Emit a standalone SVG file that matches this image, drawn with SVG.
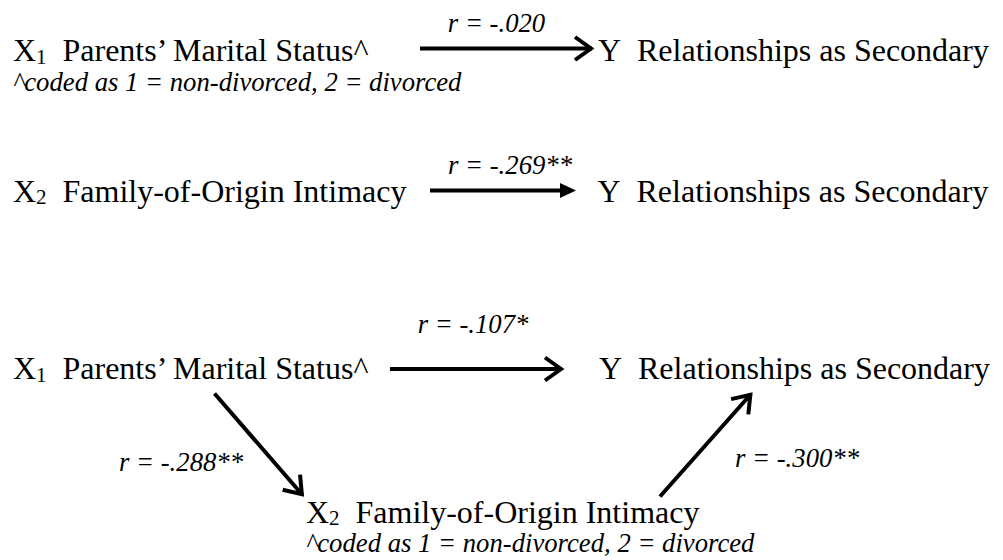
<svg xmlns="http://www.w3.org/2000/svg" width="1003" height="560" viewBox="0 0 1003 560">
<style>
.lbl{font-family:"Liberation Serif",serif;font-size:32px;fill:#000}
.sub{font-size:21px}
.it{font-family:"Liberation Serif",serif;font-size:26.7px;font-style:italic;fill:#000}
.conn{stroke:#000;stroke-width:4;fill:none}
</style>
<defs>
<marker id="chev" markerUnits="userSpaceOnUse" markerWidth="40" markerHeight="40" refX="0" refY="0" orient="auto" overflow="visible">
<path d="M-17,-11.5 L-1,0 L-17,11.5" fill="none" stroke="#000" stroke-width="4" stroke-linejoin="miter"/>
</marker>
<marker id="tri" markerUnits="userSpaceOnUse" markerWidth="40" markerHeight="40" refX="0" refY="0" orient="auto" overflow="visible">
<path d="M-4,-7.5 L12,0 L-4,7.5 Z" fill="#000"/>
</marker>
</defs>
<rect width="1003" height="560" fill="#fff"/>

<g id="top-x1">
<text class="lbl" x="13" y="61">X<tspan class="sub" dy="2.5">1</tspan><tspan dy="-2.5" x="62.5">Parents’ Marital Status^</tspan></text>
<text class="it" x="13" y="90.5">^coded as 1 = non-divorced, 2 = divorced</text>
</g>
<g id="top-y">
<text class="lbl" x="598" y="61">Y<tspan x="637">Relationships as Secondary</tspan></text>
</g>

<g id="mid-x2">
<text class="lbl" x="13" y="201.5">X<tspan class="sub" dy="2.5">2</tspan><tspan dy="-2.5" x="62.5">Family-of-Origin Intimacy</tspan></text>
</g>
<g id="mid-y">
<text class="lbl" x="597.5" y="201.5">Y<tspan x="636.5">Relationships as Secondary</tspan></text>
</g>

<g id="bot-x1">
<text class="lbl" x="13" y="379">X<tspan class="sub" dy="2.5">1</tspan><tspan dy="-2.5" x="62.5">Parents’ Marital Status^</tspan></text>
</g>
<g id="bot-y">
<text class="lbl" x="599" y="379">Y<tspan x="638">Relationships as Secondary</tspan></text>
</g>
<g id="bot-x2">
<text class="lbl" x="306" y="522.5">X<tspan class="sub" dy="2.5">2</tspan><tspan dy="-2.5" x="355.5">Family-of-Origin Intimacy</tspan></text>
<text class="it" x="306" y="551.5">^coded as 1 = non-divorced, 2 = divorced</text>
</g>

<g id="connectors">
<line class="conn" x1="420" y1="48.5" x2="592" y2="48.5" marker-end="url(#chev)"/>
<text class="it" x="496.5" y="32" text-anchor="middle">r = -.020</text>

<line class="conn" x1="430" y1="190.5" x2="564" y2="190.5" marker-end="url(#tri)"/>
<text class="it" x="510" y="173.5" text-anchor="middle">r = -.269**</text>

<line class="conn" x1="390" y1="369" x2="562" y2="369" marker-end="url(#chev)"/>
<text class="it" x="473" y="333" text-anchor="middle">r = -.107*</text>

<line class="conn" x1="214.5" y1="393.5" x2="302.5" y2="495" marker-end="url(#chev)"/>
<text class="it" x="181" y="470.5" text-anchor="middle">r = -.288**</text>

<line class="conn" x1="660" y1="496.5" x2="751" y2="394" marker-end="url(#chev)"/>
<text class="it" x="797" y="466.5" text-anchor="middle">r = -.300**</text>
</g>
</svg>
